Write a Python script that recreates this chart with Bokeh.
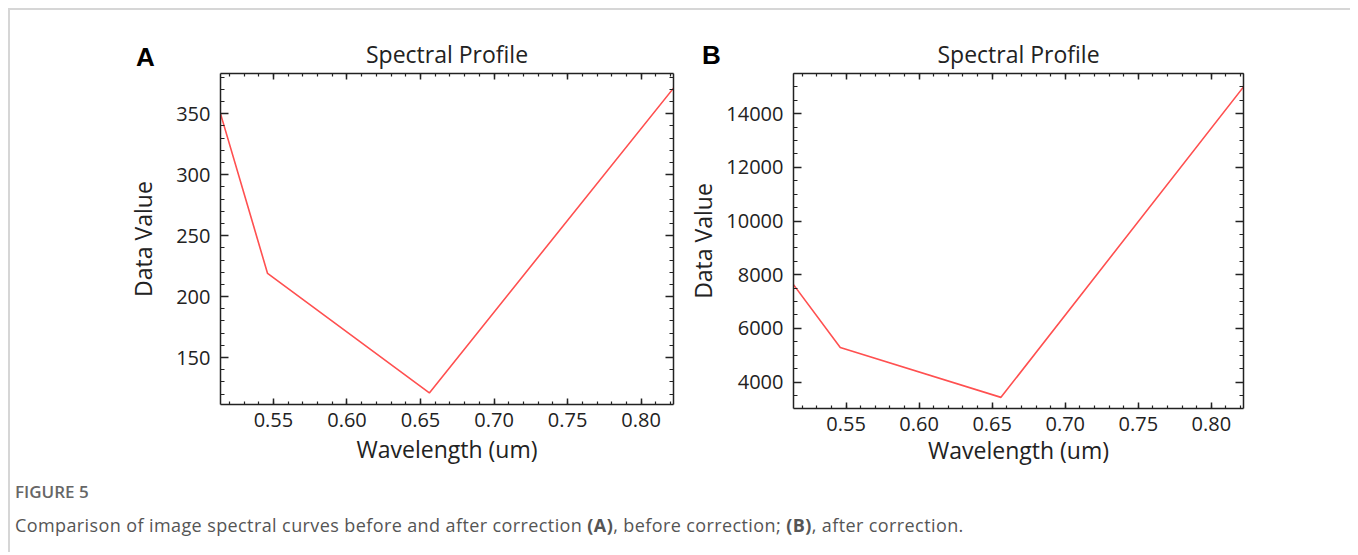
from bokeh.plotting import figure
from bokeh.layouts import row, column
from bokeh.models import LinearAxis, SingleIntervalTicker, Div, PrintfTickFormatter
from bokeh.embed import file_html
from bokeh.resources import INLINE

# ---- data ----
wavelength = [0.514, 0.546, 0.656, 0.822]
before_vals = [350, 219, 121, 371]
after_vals = [7630, 5290, 3430, 15000]

x_ticks_interval = 0.05
panel_letters = ["A", "B"]
title_text = "Spectral Profile"
x_label = "Wavelength (um)"
y_label = "Data Value"
caption_head = "FIGURE 5"
caption_body = ("Comparison of image spectral curves before and after correction "
                "<b>(A)</b>, before correction; <b>(B)</b>, after correction.")

FONT = "Open Sans"
RED = "#ff5050"
AX = "#222222"


def style_axis(ax, tick_in, minor_in, labels=True):
    ax.axis_line_color = AX
    ax.axis_line_width = 1.5
    ax.major_tick_line_color = AX
    ax.minor_tick_line_color = AX
    ax.major_tick_line_width = 1.5
    ax.minor_tick_line_width = 1.2
    ax.major_tick_in = tick_in
    ax.major_tick_out = 0
    ax.minor_tick_in = minor_in
    ax.minor_tick_out = 0
    ax.major_label_text_font = FONT
    ax.axis_label_text_font = FONT
    ax.axis_label_text_font_style = "normal"
    ax.axis_label_text_color = "#222222"
    if labels:
        ax.major_label_text_color = "#222222"
        ax.major_label_text_font_size = "20px"
        ax.axis_label_text_font_size = "23px"
    else:
        ax.major_label_text_color = None
        ax.major_label_text_font_size = "1px"
        ax.major_label_standoff = 0


def make_panel(vals, yr, y_interval, y_minor, fw, fh, mbl, mbr, mbb,
               ylab_standoff, xlab_standoff):
    p = figure(frame_width=fw, frame_height=fh, x_range=(wavelength[0], wavelength[-1]),
               y_range=yr, output_backend="svg", toolbar_location=None,
               min_border_left=mbl, min_border_right=mbr, min_border_top=63,
               min_border_bottom=mbb, x_axis_type=None, y_axis_type=None,
               background_fill_color="white", border_fill_color=None)
    p.outline_line_color = None
    p.grid.visible = False
    xt = SingleIntervalTicker(interval=x_ticks_interval, num_minor_ticks=5)
    yt = SingleIntervalTicker(interval=y_interval, num_minor_ticks=y_minor)
    xb = LinearAxis(ticker=xt, axis_label=x_label, formatter=PrintfTickFormatter(format="%.2f"))
    xa = LinearAxis(ticker=xt)
    yl = LinearAxis(ticker=yt, axis_label=y_label)
    yr_ax = LinearAxis(ticker=yt)
    style_axis(xb, 6, 3)
    style_axis(xa, 6, 3, labels=False)
    style_axis(yl, 8, 4)
    style_axis(yr_ax, 8, 4, labels=False)
    xb.major_label_standoff = 8
    xb.axis_label_standoff = xlab_standoff
    yl.major_label_standoff = 10
    yl.axis_label_standoff = ylab_standoff
    p.add_layout(xb, "below")
    p.add_layout(xa, "above")
    p.add_layout(yl, "left")
    p.add_layout(yr_ax, "right")
    p.title.text = title_text
    p.title.align = "center"
    p.title.text_font = FONT
    p.title.text_font_size = "23px"
    p.title.text_font_style = "normal"
    p.title.text_color = "#222222"
    p.title.standoff = 7
    p.line(wavelength, vals, line_color=RED, line_width=1.6)
    return p


pA = make_panel(before_vals, (111.5, 383), 50, 5, 453, 331, 210, 11, 60, 14, 3)
pB = make_panel(after_vals, (3015, 15500), 2000, 4, 450, 335, 60, 106, 56, 4, 0)


def letters_html():
    spans = []
    letter_pos = [(126, 47), (692, 45)]
    for (lx, ly), letter in zip(letter_pos, panel_letters):
        spans.append(
            f'<span style="position:absolute;left:{lx}px;top:{ly - 15}px;line-height:30px;'
            f'font-family:\'Liberation Sans\';font-weight:bold;font-size:26px;color:#000;">'
            f'{letter}</span>')
    return ('<div style="position:relative;width:1340px;height:60px;">'
            + "".join(spans) + '</div>')


# the letters sit in a strip that overlaps the top of the two panels
letters = Div(text=letters_html(), width=1340, height=60, margin=(0, 0, -60, 0))

caption = Div(
    text=(f'<div style="font-family:\'Open Sans\';color:#666;font-size:17px;font-weight:600;'
          f'line-height:14px;">{caption_head}</div>'
          f'<div style="font-family:\'Open Sans\';color:#555;font-size:18px;line-height:22px;'
          f'letter-spacing:0.4px;margin-top:15px;">{caption_body}</div>'),
    width=1330, height=74, styles={"padding-left": "0px", "padding-top": "12px"})

layout = column(letters, row(pA, pB), caption,
                styles={"border-left": "2px solid #d6d6d6", "border-top": "2px solid #d6d6d6",
                        "margin-left": "8px", "margin-top": "8px"})

open("out.html", "w").write(file_html(layout, INLINE))
